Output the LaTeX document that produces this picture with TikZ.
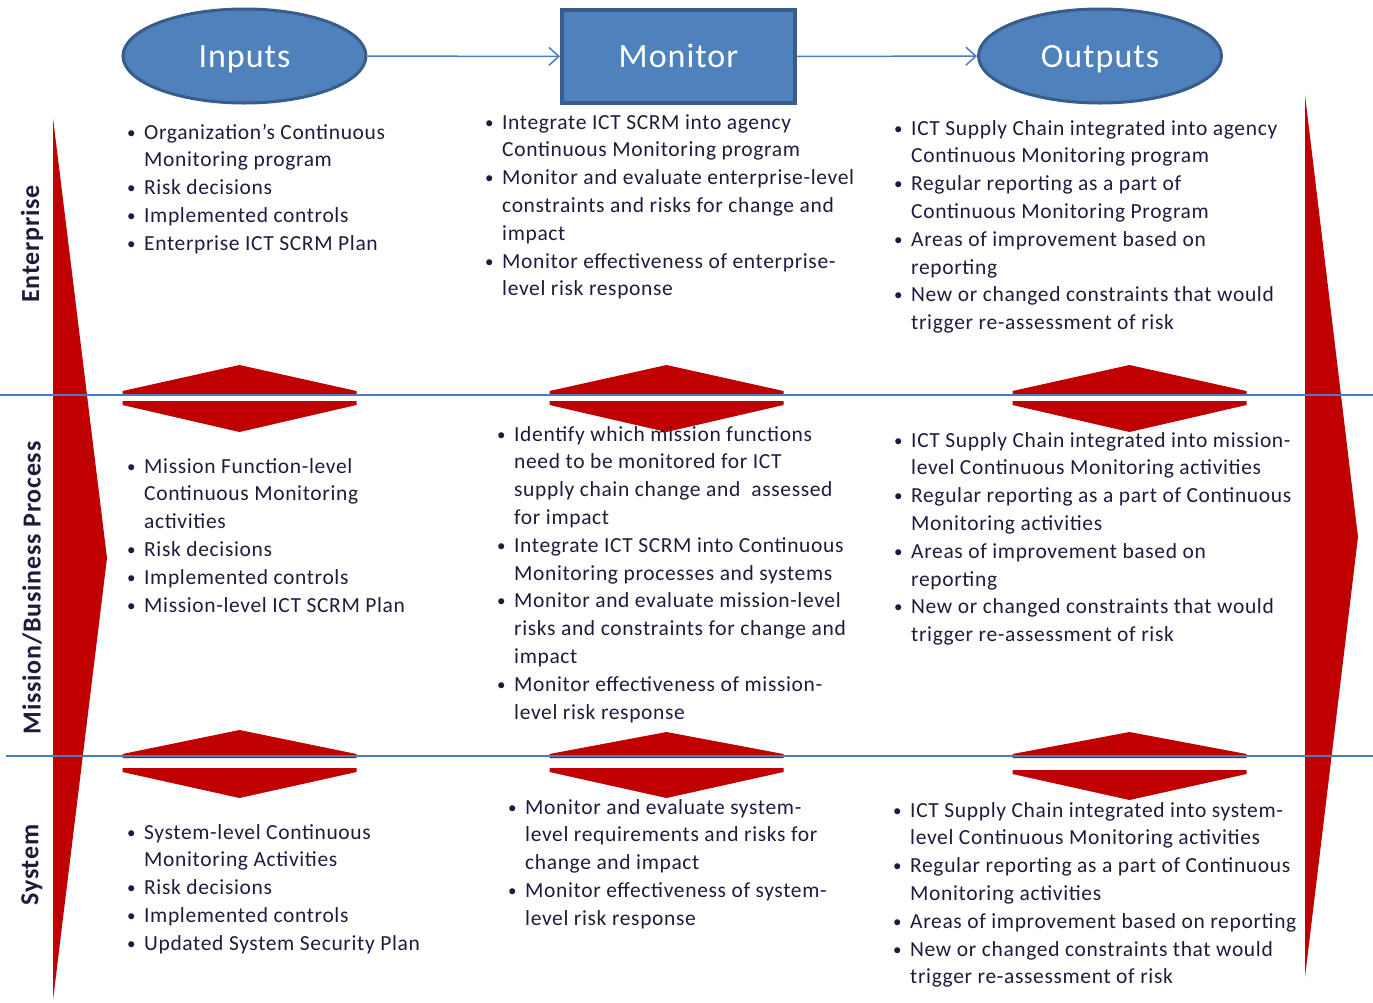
\documentclass[tikz,border=0pt]{standalone}
\usepackage{fontspec}
\setmainfont{Carlito}[LetterSpace=3]
\usetikzlibrary{arrows.meta,shapes.geometric}

\definecolor{hdrfill}{HTML}{4F81BD}
\definecolor{hdredge}{HTML}{385D8A}
\definecolor{flowred}{HTML}{C00000}
\definecolor{rulecol}{HTML}{4A7EBB}
\definecolor{ink}{HTML}{1C1C3C}

% bullet line and continuation line of a list
\newcommand\bi[1]{\makebox[14pt][l]{\hspace{-3pt}\raisebox{1pt}{\fontsize{17}{17}\selectfont\textbullet}}&#1\\}
\newcommand\ci[1]{&#1\\}
\newcommand\blist[1]{\begin{tabular}[t]{@{}l@{}l@{}}#1\end{tabular}}

% split diamond: centre x, top peak, top base, bottom top, bottom peak
\newcommand\splitdiamond[5]{%
  \fill[flowred] (#1-117,#3) -- (#1-117,#3-4) -- (#1,#2) -- (#1+117,#3-4) -- (#1+117,#3) -- cycle;
  \fill[flowred] (#1-117,#4) -- (#1-117,#4+4) -- (#1,#5) -- (#1+117,#4+4) -- (#1+117,#4) -- cycle;
}

\tikzset{
  blist/.style={anchor=base west, inner sep=0pt, text=ink,
    font=\fontsize{21.5}{27.8}\selectfont},
  hdr/.style={draw=hdredge, fill=hdrfill, text=white,
    minimum height=94pt, text height=22pt, text depth=0pt,
    font=\fontsize{34}{38}\selectfont},
  lvl/.style={rotate=90, text=ink, inner sep=0pt,
    font=\fontsize{26}{30}\selectfont\bfseries},
  flow/.style={rulecol, line width=1.5pt, -{Straight Barb[length=10pt,width=18pt]}},
  sep/.style={rulecol, line width=1.3pt}
}

\begin{document}
\begin{tikzpicture}[x=1pt,y=-1pt]
\useasboundingbox (0,0) rectangle (1373,1002);

% large flow arrows at the sides
\fill[flowred] (53,118) -- (107,558) -- (53,1000) -- cycle;
\fill[flowred] (1305,95) -- (1358,537) -- (1305,977) -- cycle;

% split diamonds between the levels
\splitdiamond{239.5}{365}{395}{401}{432}
\splitdiamond{666.5}{365}{395}{401}{432}
\splitdiamond{1129.5}{365}{395}{401}{432}
\splitdiamond{239.5}{730}{758}{768}{798}
\splitdiamond{666.5}{732}{758}{768}{798}
\splitdiamond{1129.5}{732}{758}{770}{800}

% level separators
\draw[sep] (0,395) -- (1373,395);
\draw[sep] (6,756) -- (1373,756);

% header shapes
\node[hdr, ellipse, line width=3pt, minimum width=243pt] (inputs) at (244.5,56) {Inputs};
\node[hdr, rectangle, line width=4pt, minimum width=233pt, minimum height=93pt] (monitor) at (678.5,56.5) {Monitor};
\node[hdr, ellipse, line width=3pt, minimum width=243pt] (outputs) at (1100,56) {Outputs};
\draw[flow] (inputs) -- (monitor);
\draw[flow] (monitor) -- (outputs);

% level labels
\node[lvl] (lblent) at (32,244) {Enterprise};
\node[lvl] (lblmis) at (32,588) {Mission/Business Process};
\node[lvl] (lblsys) at (32,865) {System};

% enterprise level
\node[blist] (entin) at (130,139) {\blist{%
\bi{Organization’s Continuous}
\ci{Monitoring program}
\bi{Risk decisions}
\bi{Implemented controls}
\bi{Enterprise ICT SCRM Plan}}};
\node[blist] (entmon) at (488,129) {\blist{%
\bi{Integrate ICT SCRM into agency}
\ci{Continuous Monitoring program}
\bi{Monitor and evaluate enterprise-level}
\ci{constraints and risks for change and}
\ci{impact}
\bi{Monitor effectiveness of enterprise-}
\ci{level risk response}}};
\node[blist] (entout) at (897,135) {\blist{%
\bi{ICT Supply Chain integrated into agency}
\ci{Continuous Monitoring program}
\bi{Regular reporting as a part of}
\ci{Continuous Monitoring Program}
\bi{Areas of improvement based on}
\ci{reporting}
\bi{New or changed constraints that would}
\ci{trigger re-assessment of risk}}};

% mission/business process level
\node[blist] (misin) at (130,473) {\blist{%
\bi{Mission Function-level}
\ci{Continuous Monitoring}
\ci{activities}
\bi{Risk decisions}
\bi{Implemented controls}
\bi{Mission-level ICT SCRM Plan}}};
\node[blist] (mismon) at (500,441) {\blist{%
\bi{Identify which mission functions}
\ci{need to be monitored for ICT}
\ci{supply chain change and \ assessed}
\ci{for impact}
\bi{Integrate ICT SCRM into Continuous}
\ci{Monitoring processes and systems}
\bi{Monitor and evaluate mission-level}
\ci{risks and constraints for change and}
\ci{impact}
\bi{Monitor effectiveness of mission-}
\ci{level risk response}}};
\node[blist] (misout) at (897,447) {\blist{%
\bi{ICT Supply Chain integrated into mission-}
\ci{level Continuous Monitoring activities}
\bi{Regular reporting as a part of Continuous}
\ci{Monitoring activities}
\bi{Areas of improvement based on}
\ci{reporting}
\bi{New or changed constraints that would}
\ci{trigger re-assessment of risk}}};

% system level
\node[blist] (sysin) at (130,839) {\blist{%
\bi{System-level Continuous}
\ci{Monitoring Activities}
\bi{Risk decisions}
\bi{Implemented controls}
\bi{Updated System Security Plan}}};
\node[blist] (sysmon) at (511,814) {\blist{%
\bi{Monitor and evaluate system-}
\ci{level requirements and risks for}
\ci{change and impact}
\bi{Monitor effectiveness of system-}
\ci{level risk response}}};
\node[blist] (sysout) at (896,817) {\blist{%
\bi{ICT Supply Chain integrated into system-}
\ci{level Continuous Monitoring activities}
\bi{Regular reporting as a part of Continuous}
\ci{Monitoring activities}
\bi{Areas of improvement based on reporting}
\bi{New or changed constraints that would}
\ci{trigger re-assessment of risk}}};
\end{tikzpicture}
\end{document}
